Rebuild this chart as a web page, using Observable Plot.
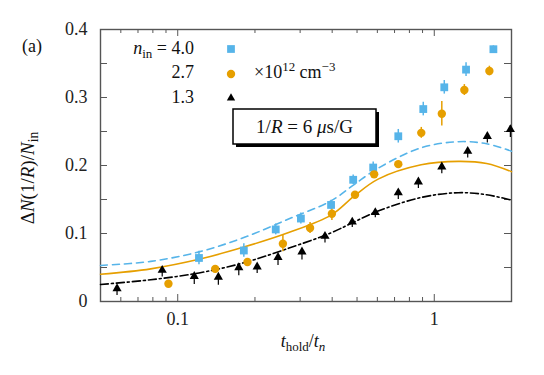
<!DOCTYPE html>
<html>
<head>
<meta charset="utf-8">
<script src="https://cdn.jsdelivr.net/npm/d3@7"></script>
<script src="https://cdn.jsdelivr.net/npm/@observablehq/plot@0.6"></script>
<style>
  html, body { margin: 0; padding: 0; background: #fff; }
  #chart { position: relative; width: 544px; height: 375px; }
  #chart svg, #chart svg text { font-family: 'Liberation Serif', 'DejaVu Serif', serif !important; }
</style>
</head>
<body>
<div id="chart"></div>
<script>
// ---- data: measured points (n_in = 4.0, 2.7, 1.3 ×10^12 cm^-3) ----
const blueT = [0.121, 0.181, 0.241, 0.302, 0.396, 0.483, 0.578, 0.724, 0.906, 1.094, 1.33, 1.70];
const blueV = [0.064, 0.075, 0.106, 0.122, 0.142, 0.179, 0.197, 0.243, 0.283, 0.315, 0.341, 0.371];
const blueE = [0.010, 0.010, 0.008, 0.008, 0.007, 0.007, 0.008, 0.010, 0.010, 0.010, 0.010, 0.005];

const orangeT = [0.092, 0.140, 0.187, 0.257, 0.328, 0.399, 0.491, 0.583, 0.724, 0.89, 1.07, 1.31, 1.64];
const orangeV = [0.026, 0.048, 0.058, 0.085, 0.108, 0.129, 0.157, 0.187, 0.202, 0.248, 0.276, 0.311, 0.339];
const orangeE = [0.005, 0.004, 0.005, 0.012, 0.008, 0.010, 0.004, 0.005, 0.004, 0.008, 0.018, 0.008, 0.007];

const blackT = [0.058, 0.087, 0.116, 0.144, 0.173, 0.204, 0.246, 0.305, 0.375, 0.479, 0.589, 0.724, 0.867, 1.07, 1.35, 1.61, 1.98];
const blackV = [0.019, 0.046, 0.037, 0.036, 0.050, 0.051, 0.065, 0.073, 0.096, 0.117, 0.131, 0.160, 0.176, 0.198, 0.221, 0.243, 0.253];
const blackELo = [0.010, 0.010, 0.012, 0.012, 0.012, 0.010, 0.012, 0.012, 0.010, 0.008, 0.008, 0.010, 0.010, 0.010, 0.010, 0.010, 0.012];
const blackEHi = [0.003, 0.004, 0.003, 0.003, 0.003, 0.003, 0.003, 0.003, 0.003, 0.003, 0.003, 0.003, 0.003, 0.003, 0.004, 0.004, 0.006];

// ---- data: theory curves ----
const curveT = [0.05, 0.0785, 0.121, 0.181, 0.269, 0.396, 0.487, 0.604, 0.889, 1.24, 1.60, 2.0];
const curveBlue   = [0.053, 0.059, 0.073, 0.094, 0.121, 0.148, 0.172, 0.196, 0.226, 0.235, 0.232, 0.221];
const curveOrange = [0.040, 0.048, 0.062, 0.080, 0.101, 0.127, 0.155, 0.180, 0.201, 0.206, 0.203, 0.191];
const curveBlack  = [0.025, 0.032, 0.042, 0.057, 0.078, 0.101, 0.117, 0.133, 0.153, 0.160, 0.157, 0.149];

// ---- axis ticks ----
const xMajor = [0.1, 1];
const xMinor = [0.05, 0.06, 0.07, 0.08, 0.09, 0.2, 0.3, 0.4, 0.5, 0.6, 0.7, 0.8, 0.9, 2];
const yMajor = [0, 0.1, 0.2, 0.3, 0.4];
const yMinor = [0.05, 0.15, 0.25, 0.35];
const xTickLabels = ["0.1", "1"];
const yTickLabels = ["0", "0.1", "0.2", "0.3", "0.4"];

const BLUE = "#56B4E9", ORANGE = "#E69F00", BLACK = "#000";
const FONT = "'Liberation Serif', 'DejaVu Serif', serif";

const W = 544, H = 375, mL = 100, mR = 33, mT = 29, mB = 74;
const xDom = [0.05, 2], yDom = [0, 0.4];
const plotW = W - mL - mR, plotH = H - mT - mB;
// tick lengths in data units (derived from scales)
const yPer = (yDom[1] - yDom[0]) / plotH;
const xFac = px => Math.pow(xDom[1] / xDom[0], px / plotW);

const pts = (T, V, extra = {}) => T.map((t, i) => ({t, v: V[i], ...Object.fromEntries(Object.entries(extra).map(([k, a]) => [k, a[i]]))}));
const blue = pts(blueT, blueV, {e: blueE});
const orange = pts(orangeT, orangeV, {e: orangeE});
const black = pts(blackT, blackV, {lo: blackELo, hi: blackEHi});
const cB = pts(curveT, curveBlue), cO = pts(curveT, curveOrange), cK = pts(curveT, curveBlack);

const tickStroke = "#444";
const plot = Plot.plot({
  width: W, height: H,
  marginLeft: mL, marginRight: mR, marginTop: mT, marginBottom: mB,
  style: {fontFamily: FONT, fontSize: "17px", background: "#fff", overflow: "visible"},
  x: {type: "log", domain: xDom, axis: null},
  y: {domain: yDom, axis: null},
  marks: [
    // ticks (inward, on all four sides)
    Plot.ruleX(xMajor, {x: d => d, y1: yDom[0], y2: yDom[0] + 7 * yPer, stroke: tickStroke, strokeWidth: 0.9}),
    Plot.ruleX(xMinor, {x: d => d, y1: yDom[0], y2: yDom[0] + 4 * yPer, stroke: tickStroke, strokeWidth: 0.9}),
    Plot.ruleX(xMajor, {x: d => d, y1: yDom[1], y2: yDom[1] - 7 * yPer, stroke: tickStroke, strokeWidth: 0.9}),
    Plot.ruleX(xMinor, {x: d => d, y1: yDom[1], y2: yDom[1] - 4 * yPer, stroke: tickStroke, strokeWidth: 0.9}),
    Plot.ruleY(yMajor.concat(yMinor), {y: d => d, x1: xDom[0], x2: xDom[0] * xFac(7), stroke: tickStroke, strokeWidth: 0.9}),
    Plot.ruleY(yMajor.concat(yMinor), {y: d => d, x1: xDom[1], x2: xDom[1] / xFac(7), stroke: tickStroke, strokeWidth: 0.9}),
    Plot.frame({stroke: "#555", strokeWidth: 1.4}),
    // tick labels
    Plot.text(xMajor, {x: d => d, text: (d, i) => xTickLabels[i], frameAnchor: "bottom", dy: 23, fill: "#222", fontSize: 18, fontFamily: FONT}),
    Plot.text(yMajor, {y: d => d, text: (d, i) => yTickLabels[i], frameAnchor: "left", dx: -13, textAnchor: "end", fill: "#222", fontSize: 18, fontFamily: FONT}),
    // theory curves
    Plot.line(cB, {x: "t", y: "v", stroke: BLUE, strokeWidth: 1.6, strokeDasharray: "7,5", curve: "catmull-rom"}),
    Plot.line(cO, {x: "t", y: "v", stroke: ORANGE, strokeWidth: 1.6, curve: "catmull-rom"}),
    Plot.line(cK, {x: "t", y: "v", stroke: BLACK, strokeWidth: 1.6, strokeDasharray: "8,3,2,3", curve: "catmull-rom"}),
    // error bars
    Plot.ruleX(blue, {x: "t", y1: d => d.v - d.e, y2: d => d.v + d.e, stroke: BLUE, strokeWidth: 1.5}),
    Plot.ruleX(orange, {x: "t", y1: d => d.v - d.e, y2: d => d.v + d.e, stroke: ORANGE, strokeWidth: 1.5}),
    Plot.ruleX(black, {x: "t", y1: d => d.v - d.lo, y2: d => d.v + d.hi, stroke: BLACK, strokeWidth: 1.2}),
    // markers
    Plot.dot(blue, {x: "t", y: "v", symbol: "square", r: 4.4, fill: BLUE, stroke: "none"}),
    Plot.dot(orange, {x: "t", y: "v", symbol: "circle", r: 4.2, fill: ORANGE, stroke: "none"}),
    Plot.dot(black, {x: "t", y: "v", symbol: "triangle", r: 3.4, fill: BLACK, stroke: "none"})
  ]
});
document.getElementById("chart").appendChild(plot);

// ---- annotations (legend, labels) ----
const svg = d3.select(plot);
const ann = svg.append("g").style("font-family", FONT).attr("fill", "#111");
function rich(x, y, parts, opts = {}) {
  const size = opts.size || 18;
  const t = ann.append("text").attr("x", x).attr("y", y).attr("font-size", size)
    .style("font-family", FONT).attr("text-anchor", opts.anchor || "start");
  if (opts.rotate) t.attr("transform", `rotate(${opts.rotate},${x},${y})`);
  for (const p of parts) {
    const s = t.append("tspan").text(p.s);
    if (p.i) s.attr("font-style", "italic");
    if (p.sub) s.attr("font-size", size * 0.72).attr("dy", 4);
    if (p.sup) s.attr("font-size", size * 0.72).attr("dy", -7);
    if (p.back) s.attr("dy", p.back);
  }
  return t;
}
rich(22, 52, [{s: "(a)"}]);
rich(194, 54, [{s: "n", i: 1}, {s: "in", sub: 1}, {s: " = 4.0", back: -4}], {anchor: "end"});
rich(194, 78, [{s: "2.7"}], {anchor: "end"});
rich(194, 103, [{s: "1.3"}], {anchor: "end"});
rich(254, 78, [{s: "×10"}, {s: "12", sup: 1}, {s: " cm", back: 7}, {s: "−3", sup: 1}]);
// legend symbols
const sym = (type, size, x, y, color) => ann.append("path").attr("d", d3.symbol(type, size)()).attr("transform", `translate(${x},${y})`).attr("fill", color);
sym(d3.symbolSquare, 60, 231, 49, BLUE);
sym(d3.symbolCircle, 55, 231, 74, ORANGE);
sym(d3.symbolTriangle, 30, 231, 98, BLACK);
// boxed annotation with shadow
ann.append("rect").attr("x", 236).attr("y", 112).attr("width", 143).attr("height", 35).attr("fill", "#000");
ann.append("rect").attr("x", 233).attr("y", 109).attr("width", 143).attr("height", 35).attr("fill", "#fff").attr("stroke", "#000").attr("stroke-width", 1.5);
rich(304.5, 133, [{s: "1/"}, {s: "R", i: 1}, {s: " = 6 "}, {s: "μ", i: 1}, {s: "s/G"}], {anchor: "middle", size: 19});
// axis titles
rich(303, 347, [{s: "t", i: 1}, {s: "hold", sub: 1}, {s: "/", back: -4}, {s: "t", i: 1}, {s: "n", sub: 1, i: 1}], {anchor: "middle"});
rich(34, 178, [{s: "Δ"}, {s: "N", i: 1}, {s: "(1/"}, {s: "R", i: 1}, {s: ")/"}, {s: "N", i: 1}, {s: "in", sub: 1}], {anchor: "middle", rotate: -90, size: 19});
</script>
</body>
</html>
